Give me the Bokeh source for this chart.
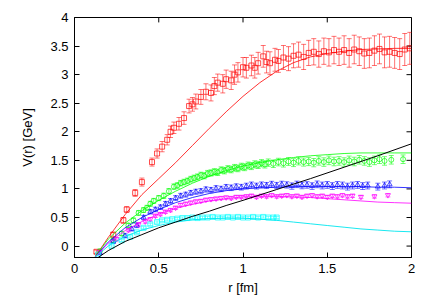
from bokeh.plotting import figure
from bokeh.models import Range1d, FixedTicker, Whisker, TeeHead, ColumnDataSource
from bokeh.embed import file_html
from bokeh.resources import INLINE

# ---------------- data ----------------
red_r = [0.13,0.23,0.29,0.31,0.36,0.40,0.46,0.49,0.52,0.55,0.57,0.59,0.62,0.65,0.68,0.70,0.72,0.75,0.78,0.81,
         0.83,0.85,0.88,0.90,0.93,0.95,0.97,1.00,1.02,1.05,1.07,1.09,1.12,1.14,1.16,1.19,1.21,1.24,1.27,1.30,
         1.33,1.36,1.39,1.42,1.45,1.48,1.51,1.54,1.57,1.60,1.63,1.66,1.69,1.72,1.75,1.78,1.81,1.84,1.87,1.90,
         1.93,1.96,1.99]
red_v = [-0.10,0.20,0.45,0.64,0.93,1.12,1.47,1.62,1.74,1.86,2.00,2.07,2.14,2.24,2.45,2.48,2.53,2.61,2.70,2.68,
         2.80,2.86,2.84,2.92,2.90,3.00,3.04,3.13,3.12,3.16,3.12,3.20,3.32,3.22,3.20,3.26,3.24,3.30,3.28,3.33,
         3.35,3.31,3.38,3.40,3.36,3.41,3.39,3.43,3.40,3.43,3.38,3.44,3.41,3.37,3.38,3.42,3.45,3.39,3.40,3.38,
         3.36,3.44,3.46]
red_e = [0.03,0.04,0.05,0.05,0.06,0.07,0.07,0.08,0.09,0.09,0.10,0.10,0.11,0.11,0.12,0.12,0.13,0.13,0.14,0.14,
         0.15,0.15,0.16,0.16,0.16,0.17,0.17,0.17,0.18,0.18,0.18,0.19,0.19,0.19,0.20,0.20,0.20,0.21,0.21,0.21,
         0.22,0.22,0.22,0.23,0.23,0.23,0.24,0.24,0.24,0.25,0.25,0.25,0.25,0.26,0.26,0.26,0.26,0.27,0.27,0.27,
         0.27,0.28,0.28]

green_r = [0.15,0.23,0.28,0.32,0.35,0.38,0.41,0.43,0.45,0.47,0.50,0.53,0.56,0.59,0.61,0.63,0.65,0.67,0.69,0.71,
           0.73,0.75,0.77,0.79,0.81,0.83,0.85,0.87,0.89,0.91,0.93,0.95,0.97,0.99,1.01,1.03,1.05,1.07,1.09,1.11,
           1.13,1.15,1.18,1.21,1.24,1.27,1.30,1.33,1.36,1.39,1.42,1.45,1.48,1.51,1.54,1.57,1.60,1.63,1.66,1.69,
           1.72,1.75,1.78,1.81,1.84,1.88,1.95]
green_v = [-0.09,0.10,0.22,0.36,0.45,0.58,0.63,0.67,0.74,0.79,0.84,0.88,0.96,1.04,1.06,1.10,1.12,1.14,1.17,1.19,
           1.21,1.24,1.23,1.27,1.28,1.30,1.29,1.33,1.32,1.35,1.34,1.37,1.36,1.39,1.38,1.41,1.40,1.43,1.42,1.45,
           1.43,1.46,1.44,1.47,1.45,1.48,1.46,1.49,1.47,1.48,1.46,1.49,1.47,1.50,1.48,1.49,1.47,1.50,1.48,1.51,
           1.49,1.47,1.50,1.52,1.49,1.51,1.52]

blue_r = [0.15,0.23,0.30,0.34,0.37,0.41,0.45,0.48,0.51,0.54,0.57,0.60,0.63,0.66,0.69,0.72,0.75,0.78,0.81,0.84,
          0.87,0.90,0.93,0.96,0.99,1.02,1.05,1.08,1.11,1.14,1.17,1.20,1.23,1.26,1.29,1.32,1.35,1.38,1.41,1.44,
          1.47,1.50,1.53,1.56,1.59,1.62,1.65,1.68,1.71,1.74,1.80,1.84,1.87]
blue_v = [-0.12,0.08,0.18,0.30,0.36,0.50,0.60,0.64,0.68,0.74,0.79,0.84,0.88,0.90,0.93,0.95,0.96,0.99,0.98,1.01,
          1.00,1.03,1.02,1.04,1.03,1.05,1.07,1.05,1.07,1.06,1.08,1.06,1.08,1.07,1.05,1.08,1.06,1.07,1.05,1.08,
          1.06,1.07,1.05,1.07,1.06,1.04,1.06,1.07,1.05,1.06,1.04,1.06,1.08]

mag_r = [0.15,0.25,0.32,0.38,0.42,0.45,0.48,0.51,0.54,0.57,0.60,0.63,0.66,0.69,0.72,0.75,0.78,0.81,0.84,0.87,
         0.90,0.93,0.96,0.99,1.02,1.05,1.08,1.11,1.14,1.17,1.20,1.23,1.26,1.29,1.32,1.35,1.38,1.41,1.44,1.47,
         1.50,1.53,1.56,1.59,1.62,1.65,1.70,1.78,1.86]
mag_v = [-0.10,0.12,0.28,0.38,0.43,0.47,0.53,0.56,0.60,0.63,0.67,0.72,0.74,0.76,0.78,0.79,0.81,0.82,0.83,0.84,
         0.85,0.84,0.86,0.86,0.87,0.88,0.86,0.88,0.87,0.89,0.87,0.88,0.89,0.87,0.88,0.86,0.88,0.89,0.87,0.88,
         0.86,0.88,0.87,0.89,0.87,0.88,0.86,0.87,0.89]

cyan_r = [0.14,0.22,0.28,0.33,0.37,0.41,0.45,0.49,0.52,0.55,0.58,0.61,0.64,0.67,0.70,0.73,0.76,0.79,0.82,0.85,
          0.88,0.91,0.94,0.97,1.00,1.03,1.06,1.09,1.12,1.15,1.18,1.20]
cyan_v = [-0.15,0.00,0.10,0.16,0.24,0.32,0.38,0.42,0.45,0.46,0.47,0.48,0.49,0.49,0.50,0.49,0.50,0.50,0.51,0.50,
          0.50,0.51,0.50,0.51,0.50,0.50,0.51,0.50,0.51,0.50,0.50,0.50]

# model curves
fit_r = [0.12,0.2,0.3,0.4,0.5,0.6,0.7,0.8,0.9,1.0,1.1,1.2,1.3,1.4,1.5,1.6,1.7,1.8,1.9,2.0]
red_fit = [-0.20,0.15,0.55,0.90,1.18,1.46,1.76,2.06,2.35,2.62,2.86,3.06,3.21,3.31,3.37,3.41,3.44,3.45,3.46,3.46]
green_fit = [-0.20,0.12,0.40,0.62,0.80,0.96,1.10,1.22,1.32,1.40,1.46,1.51,1.55,1.58,1.60,1.62,1.63,1.63,1.63,1.63]
blue_fit = [-0.20,0.07,0.32,0.50,0.64,0.76,0.85,0.92,0.97,1.00,1.02,1.03,1.04,1.04,1.04,1.04,1.04,1.03,1.03,1.02]
mag_fit = [-0.20,0.05,0.27,0.43,0.56,0.66,0.73,0.79,0.83,0.86,0.87,0.87,0.86,0.85,0.83,0.81,0.79,0.77,0.76,0.75]
cyan_fit = [-0.20,0.00,0.17,0.28,0.36,0.42,0.46,0.48,0.49,0.49,0.47,0.45,0.42,0.39,0.36,0.33,0.30,0.28,0.26,0.25]
black_r = [0.14,0.2,0.3,0.4,0.5,0.6,0.7,0.8,0.9,1.0,1.2,1.4,1.6,1.8,2.0]
black_v = [-0.20,-0.08,0.08,0.20,0.32,0.42,0.52,0.61,0.71,0.80,0.99,1.18,1.38,1.58,1.79]

x_ticks = [0, 0.5, 1, 1.5, 2]
y_ticks = [0, 0.5, 1, 1.5, 2, 2.5, 3, 3.5, 4]
X0, X1, Y0, Y1 = 0, 2, -0.2, 4

# ---------------- figure ----------------
FW, FH = 337, 244  # frame size in px
p = figure(width=428, height=297, output_backend="svg", toolbar_location=None,
           x_range=Range1d(X0, X1), y_range=Range1d(Y0, Y1),
           min_border_left=74, min_border_right=17, min_border_top=17, min_border_bottom=36)
p.xgrid.visible = False
p.ygrid.visible = False
p.outline_line_color = "black"
p.outline_line_width = 1
p.background_fill_color = "white"
p.border_fill_color = "white"

FONT = "Liberation Sans"
for ax in (p.xaxis[0], p.yaxis[0]):
    ax.major_tick_in = 5
    ax.major_tick_out = 0
    ax.minor_tick_line_color = None
    ax.axis_line_color = "black"
    ax.major_tick_line_color = "black"
    ax.major_label_text_font = FONT
    ax.major_label_text_font_size = "13px"
    ax.major_label_text_color = "black"
    ax.axis_label_text_font = FONT
    ax.axis_label_text_font_size = "13px"
    ax.axis_label_text_font_style = "normal"
    ax.axis_label_text_color = "black"

p.xaxis.ticker = FixedTicker(ticks=x_ticks)
p.yaxis.ticker = FixedTicker(ticks=y_ticks)
p.xaxis.axis_label = "r [fm]"
p.yaxis.axis_label = "V(r) [GeV]"
p.xaxis.major_label_overrides = {0: "0", 0.5: "0.5", 1: "1", 1.5: "1.5", 2: "2"}
p.yaxis.major_label_overrides = {0: "0", 0.5: "0.5", 1: "1", 1.5: "1.5", 2: "2", 2.5: "2.5", 3: "3", 3.5: "3.5", 4: "4"}
p.xaxis.axis_label_standoff = 4
p.yaxis.axis_label_standoff = 12
p.xaxis.major_label_standoff = 6
p.yaxis.major_label_standoff = 6

# mirrored inward ticks on top and right edges (gnuplot style)
tick_dy = 5 * (Y1 - Y0) / FH
tick_dx = 5 * (X1 - X0) / FW
p.segment(x0=x_ticks, y0=[Y1] * len(x_ticks), x1=x_ticks, y1=[Y1 - tick_dy] * len(x_ticks),
          line_color="black", line_width=1)
p.segment(x0=[X1] * len(y_ticks), y0=y_ticks, x1=[X1 - tick_dx] * len(y_ticks), y1=y_ticks,
          line_color="black", line_width=1)

def add_series(r, v, e, color, marker, size=5, alpha=0.55):
    up = [a + b for a, b in zip(v, e)]
    lo = [a - b for a, b in zip(v, e)]
    src = ColumnDataSource(dict(r=r, v=v, up=up, lo=lo))
    w = Whisker(base="r", upper="up", lower="lo", source=src, dimension="height",
                line_color=color, line_alpha=alpha, line_width=1,
                upper_head=TeeHead(size=5, line_color=color, line_alpha=alpha),
                lower_head=TeeHead(size=5, line_color=color, line_alpha=alpha))
    p.add_layout(w)
    p.scatter("r", "v", source=src, marker=marker, size=size, fill_color=None,
              line_color=color, line_alpha=alpha + 0.15, line_width=1)

cyan_e = [0.02] * len(cyan_r)
mag_e = [0.03] * len(mag_r)
blue_e = [0.03 + 0.02 * min(x, 1.5) for x in blue_r]
green_e = [0.03 + 0.03 * min(x, 1.5) for x in green_r]

add_series(red_r, red_v, red_e, "#ff0000", "square")
add_series(green_r, green_v, green_e, "#00ff00", "circle")
add_series(blue_r, blue_v, blue_e, "#0000ff", "triangle")
add_series(mag_r, mag_v, mag_e, "#ff00ff", "inverted_triangle")
add_series(cyan_r, cyan_v, cyan_e, "#00ffff", "square")

p.line(fit_r, red_fit, line_color="#ff0000", line_width=1, line_alpha=0.8)
p.line(fit_r, green_fit, line_color="#00ff00", line_width=1, line_alpha=0.8)
p.line(fit_r, blue_fit, line_color="#0000ff", line_width=1, line_alpha=0.8)
p.line(fit_r, mag_fit, line_color="#ff00ff", line_width=1, line_alpha=0.8)
p.line(fit_r, cyan_fit, line_color="#00e5ee", line_width=1, line_alpha=0.9)
p.line(black_r, black_v, line_color="black", line_width=1)

open("out.html", "w").write(file_html(p, INLINE))
